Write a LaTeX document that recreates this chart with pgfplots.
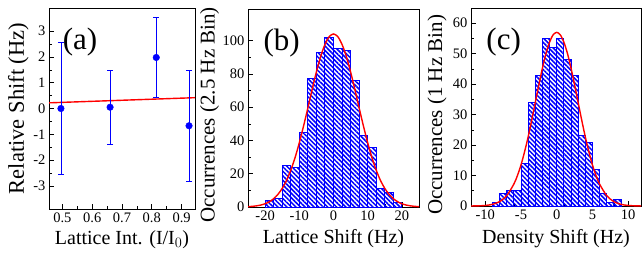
\documentclass[border=0pt]{standalone}
\usepackage{fontspec}
\setmainfont{Liberation Serif}
\usepackage{pgfplots}
\pgfplotsset{compat=1.18}
\usetikzlibrary{patterns.meta}
\begin{document}
\begin{tikzpicture}[x=1pt,y=1pt]
\pgfplotsset{
  every axis/.append style={
    scale only axis,
    axis line style={black, line width=0.8pt},
    tick style={black, line width=0.6pt},
    major tick length=5pt, minor tick length=3pt,
    tick align=inside,
    xtick pos=bottom, ytick pos=left,
    /pgf/number format/assume math mode=true,
    tick label style={font=\fontsize{14.5}{14.5}\selectfont},
    xlabel style={font=\fontsize{20}{20}\selectfont},
    ylabel style={font=\fontsize{21}{21}\selectfont},
  },
  hbar/.style={ybar interval, draw=blue, line width=1pt,
    pattern={Lines[angle=-45,distance=3.2pt,line width=1.5pt]}, pattern color=blue},
  fit/.style={red, line width=1.4pt, smooth, no marks},
}
% ---------------- (a)
\begin{axis}[at={(49pt,46pt)}, anchor=south west, width=146pt, height=201pt,
  xmin=0.455, xmax=0.945, ymin=-3.9, ymax=3.9,
  xtick={0.5,0.6,0.7,0.8,0.9}, minor x tick num=1,
  ytick={-3,-2,-1,0,1,2,3}, minor y tick num=1,
  xticklabel style={/pgf/number format/fixed, /pgf/number format/precision=1},
  xlabel={Lattice Int. (I/I$_0$)}, ylabel={Relative Shift (Hz)},
  xlabel style={at={(axis description cs:0.5,-0.154)}, anchor=center},
  ylabel style={at={(axis description cs:-0.21,0.5)}, anchor=center, font=\fontsize{22.5}{22.5}\selectfont},
  ]
\addplot[red, line width=1.4pt] coordinates {(0.455,0.22) (0.945,0.42)};
\addplot[blue, only marks, mark=*, mark size=3.3pt,
  error bars/.cd, y dir=both, y explicit,
  error bar style={blue, line width=0.8pt},
  error mark options={rotate=90, blue, mark size=3pt, line width=0.8pt}]
  coordinates {(0.495,0) +- (0,2.57) (0.66,0.05) +- (0,1.43) (0.815,1.98) +- (0,1.56) (0.925,-0.67) +- (0,2.15)};
\node[font=\fontsize{31}{31}\selectfont, anchor=west] at (rel axis cs:0.07,0.83) {(a)};
\end{axis}
% ---------------- (b)
\begin{axis}[at={(248pt,48pt)}, anchor=south west, width=171pt, height=198pt,
  xmin=-25, xmax=25, ymin=0, ymax=119,
  xtick={-20,-10,0,10,20}, minor x tick num=1,
  ytick={0,20,40,60,80,100}, minor y tick num=1,
  xlabel={Lattice Shift (Hz)}, ylabel={Occurrences (2.5 Hz Bin)},
  xlabel style={at={(axis description cs:0.5,-0.162)}, anchor=center},
  ylabel style={at={(axis description cs:-0.225,0.465)}, anchor=center},
  ]
\addplot[hbar] coordinates {(-20,4) (-17.5,5) (-15,25) (-12.5,24) (-10,45) (-7.5,77) (-5,93) (-2.5,102) (0,95) (2.5,94) (5,76) (7.5,43) (10,36) (12.5,11) (15,9) (17.5,3) (20,3)};
\addplot[fit] coordinates {(-25,0.21) (-23.75,0.39) (-22.5,0.69) (-21.25,1.18) (-20,1.97) (-18.75,3.18) (-17.5,4.98) (-16.25,7.58) (-15,11.2) (-13.75,15.9) (-12.5,22.1) (-11.25,29.6) (-10,38.6) (-8.75,48.7) (-7.5,59.5) (-6.25,70.6) (-5,81.2) (-3.75,90.5) (-2.5,97.7) (-1.25,102.4) (0,104) (1.25,102.4) (2.5,97.7) (3.75,90.5) (5,81.2) (6.25,70.6) (7.5,59.5) (8.75,48.7) (10,38.6) (11.25,29.6) (12.5,22.1) (13.75,15.9) (15,11.2) (16.25,7.58) (17.5,4.98) (18.75,3.18) (20,1.97) (21.25,1.18) (22.5,0.69) (23.75,0.39) (25,0.21)};
\node[font=\fontsize{31}{31}\selectfont, anchor=west] at (rel axis cs:0.07,0.83) {(b)};
\end{axis}
% ---------------- (c)
\begin{axis}[at={(471pt,49pt)}, anchor=south west, width=170pt, height=198pt,
  xmin=-12, xmax=11.8, ymin=0, ymax=65,
  xtick={-10,-5,0,5,10}, minor x tick num=4,
  ytick={0,10,20,30,40,50,60}, minor y tick num=1,
  xlabel={Density Shift (Hz)}, ylabel={Occurrences (1 Hz Bin)},
  xlabel style={at={(axis description cs:0.5,-0.167)}, anchor=center},
  ylabel style={at={(axis description cs:-0.2,0.46)}, anchor=center},
  ]
\addplot[hbar] coordinates {(-9,1) (-8,4) (-7,5) (-6,5) (-5,14) (-4,34) (-3,43) (-2,55) (-1,52) (0,55) (1,48) (2,43) (3,23) (4,21) (5,12) (6,4) (7,1) (8,2) (9,2)};
\addplot[fit] coordinates {(-12,0.01) (-11,0.05) (-10,0.18) (-9,0.54) (-8,1.44) (-7,3.41) (-6,7.2) (-5.5,10.0) (-5,13.5) (-4.5,17.8) (-4,22.7) (-3.5,28.2) (-3,34.0) (-2.5,39.8) (-2,45.3) (-1.5,50.1) (-1,53.8) (-0.5,56.2) (0,57) (0.5,56.2) (1,53.8) (1.5,50.1) (2,45.3) (2.5,39.8) (3,34.0) (3.5,28.2) (4,22.7) (4.5,17.8) (5,13.5) (5.5,10.0) (6,7.2) (7,3.41) (8,1.44) (9,0.54) (10,0.18) (11,0.05) (11.8,0.015)};
\node[font=\fontsize{31}{31}\selectfont, anchor=west] at (rel axis cs:0.07,0.83) {(c)};
\end{axis}
\pgfresetboundingbox
\path[use as bounding box] (0pt,0pt) rectangle (642pt,255pt);
\end{tikzpicture}
\end{document}
